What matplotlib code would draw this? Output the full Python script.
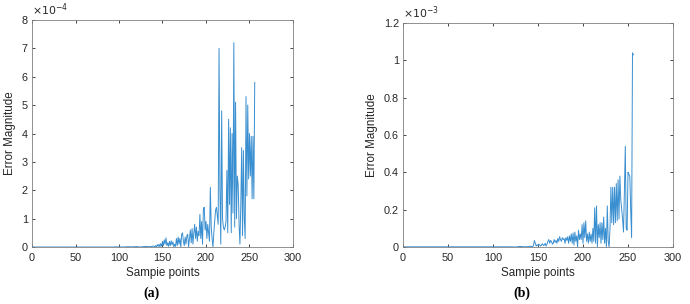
import numpy as np
import matplotlib
matplotlib.use("Agg")
import matplotlib.pyplot as plt

plt.rcParams['font.family'] = ['Liberation Sans', 'DejaVu Sans']

# ---------------- data ----------------
# panel (a): values in units of 1e-4
head_x_a = [1, 30, 60, 90, 100, 105, 110, 115, 120, 125, 130, 135]
head_y_a = [0.0, 0.0, 0.0, 0.0, 0.005, 0.0, 0.01, 0.005, 0.015, 0.0, 0.02, 0.01]
tail_y_a = [0.03, 0.0, 0.05, 0.01, 0.08, 0.02, 0.1, 0.0, 0.12, 0.03,
            0.2, 0.05, 0.25, 0.1, 0.32, 0.05, 0.15, 0.02, 0.2, 0.05,
            0.22, 0.08, 0.18, 0.0, 0.1, 0.02, 0.3, 0.05, 0.35, 0.1,
            0.3, 0.0, 0.45, 0.5, 0.2, 0.05, 0.35, 0.1, 0.4, 0.45,
            0.0, 0.3, 0.6, 0.15, 0.65, 0.1, 0.5, 0.8, 0.3, 0.7,
            0.2, 0.55, 0.4, 1.15, 0.3, 0.9, 0.1, 1.35, 1.4, 0.6,
            0.9, 0.3, 0.8, 0.5, 0.2, 2.1, 0.7, 0.3, 0.0, 0.5,
            0.9, 1.3, 1.4, 1.1, 0.8, 7.0, 2.0, 0.1, 4.8, 1.0,
            0.7, 0.6, 0.7, 0.9, 2.7, 0.5, 4.5, 1.5, 4.2, 0.5,
            4.0, 1.2, 7.2, 0.7, 5.1, 1.0, 2.5, 2.2, 0.8, 0.1,
            1.5, 3.5, 0.4, 3.4, 1.0, 0.3, 5.3, 1.8, 5.0, 2.4,
            4.0, 2.5, 3.9, 1.7, 3.9, 1.7, 5.8]

# panel (b): values in units of 1e-3
head_x_b = [1, 30, 60, 90, 100, 110, 120, 125, 130, 135]
head_y_b = [0.001, 0.001, 0.001, 0.001, 0.001, 0.001, 0.001, 0.0, 0.003, 0.001]
tail_y_b = [0.002, 0.005, 0.001, 0.004, 0.002, 0.008, 0.035, 0.02, 0.005, 0.012,
            0.008, 0.015, 0.01, 0.005, 0.012, 0.018, 0.008, 0.01, 0.02, 0.005,
            0.015, 0.03, 0.04, 0.02, 0.035, 0.03, 0.015, 0.02, 0.04, 0.025,
            0.035, 0.02, 0.045, 0.03, 0.055, 0.04, 0.03, 0.05, 0.04, 0.045,
            0.02, 0.05, 0.035, 0.055, 0.02, 0.06, 0.03, 0.07, 0.02, 0.075,
            0.01, 0.08, 0.03, 0.06, 0.0, 0.09, 0.04, 0.07, 0.04, 0.12,
            0.02, 0.13, 0.05, 0.14, 0.03, 0.07, 0.02, 0.08, 0.03, 0.07,
            0.02, 0.1, 0.03, 0.21, 0.02, 0.22, 0.0, 0.12, 0.05, 0.13,
            0.02, 0.13, 0.04, 0.16, 0.02, 0.1, 0.0, 0.22, 0.03, 0.0,
            0.1, 0.32, 0.13, 0.32, 0.12, 0.32, 0.13, 0.34, 0.14, 0.36,
            0.15, 0.38, 0.25, 0.2, 0.15, 0.08, 0.3, 0.54, 0.1, 0.09,
            0.4, 0.39, 0.38, 0.2, 0.05, 1.04, 1.03]

x_ticks = [0, 50, 100, 150, 200, 250, 300]
y_ticks_a = [0, 1, 2, 3, 4, 5, 6, 7, 8]
y_ticks_b = [0, 0.2, 0.4, 0.6, 0.8, 1.0, 1.2]
y_ticklabels_b = ['0', '0.2', '0.4', '0.6', '0.8', '1', '1.2']

x_a = np.concatenate([head_x_a, np.arange(257 - len(tail_y_a), 257)])
y_a = np.concatenate([head_y_a, tail_y_a])
x_b = np.concatenate([head_x_b, np.arange(257 - len(tail_y_b), 257)])
y_b = np.concatenate([head_y_b, tail_y_b])

# ---------------- figure ----------------
W, H = 690, 304
fig = plt.figure(figsize=(W / 100, H / 100), dpi=100)

line_color = '#3a8fd0'
edge = '#262626'
tick_col = '#262626'
fs = 7.8


def make_axes(rect, x, y, yticks, ylim, exp_txt, yticklabels=None):
    ax = fig.add_axes(rect)
    ax.plot(x, y, color=line_color, lw=0.7)
    ax.set_xlim(0, 300)
    ax.set_ylim(*ylim)
    ax.set_xticks(x_ticks)
    ax.set_yticks(yticks)
    if yticklabels is not None:
        ax.set_yticklabels(yticklabels)
    ax.tick_params(direction='in', length=2.5, width=0.6, colors=tick_col,
                   labelsize=fs, top=True, right=True)
    ax.tick_params(axis='x', pad=4)
    ax.tick_params(axis='y', pad=3)
    for s in ax.spines.values():
        s.set_color('#808080')
        s.set_linewidth(0.6)
    ax.set_xlabel('Sampie points', fontsize=fs + 0.6, color=edge, labelpad=3)
    ax.set_ylabel('Error Magnitude', fontsize=fs + 0.6, color=edge, labelpad=4)
    ax.text(0.0, 1.01, exp_txt, transform=ax.transAxes, fontsize=fs,
            color=edge, ha='left', va='bottom')
    return ax


# axes rects (fractions) from pixel positions
def rect(l, t, r, b):
    return [l / W, 1 - b / H, (r - l) / W, (b - t) / H]


make_axes(rect(32, 20, 293, 247), x_a, y_a, y_ticks_a, (0, 8), r'$\times10^{-4}$')
make_axes(rect(403, 23, 673, 247), x_b, y_b, y_ticks_b, (0, 1.2), r'$\times10^{-3}$',
          y_ticklabels_b)

fig.text(152 / W, 1 - 293 / H, '(a)', fontsize=10, fontweight='bold',
         family=['Liberation Serif', 'DejaVu Serif'], ha='center', va='center')
fig.text(522 / W, 1 - 293 / H, '(b)', fontsize=10, fontweight='bold',
         family=['Liberation Serif', 'DejaVu Serif'], ha='center', va='center')

fig.savefig('out.png', dpi=100)
